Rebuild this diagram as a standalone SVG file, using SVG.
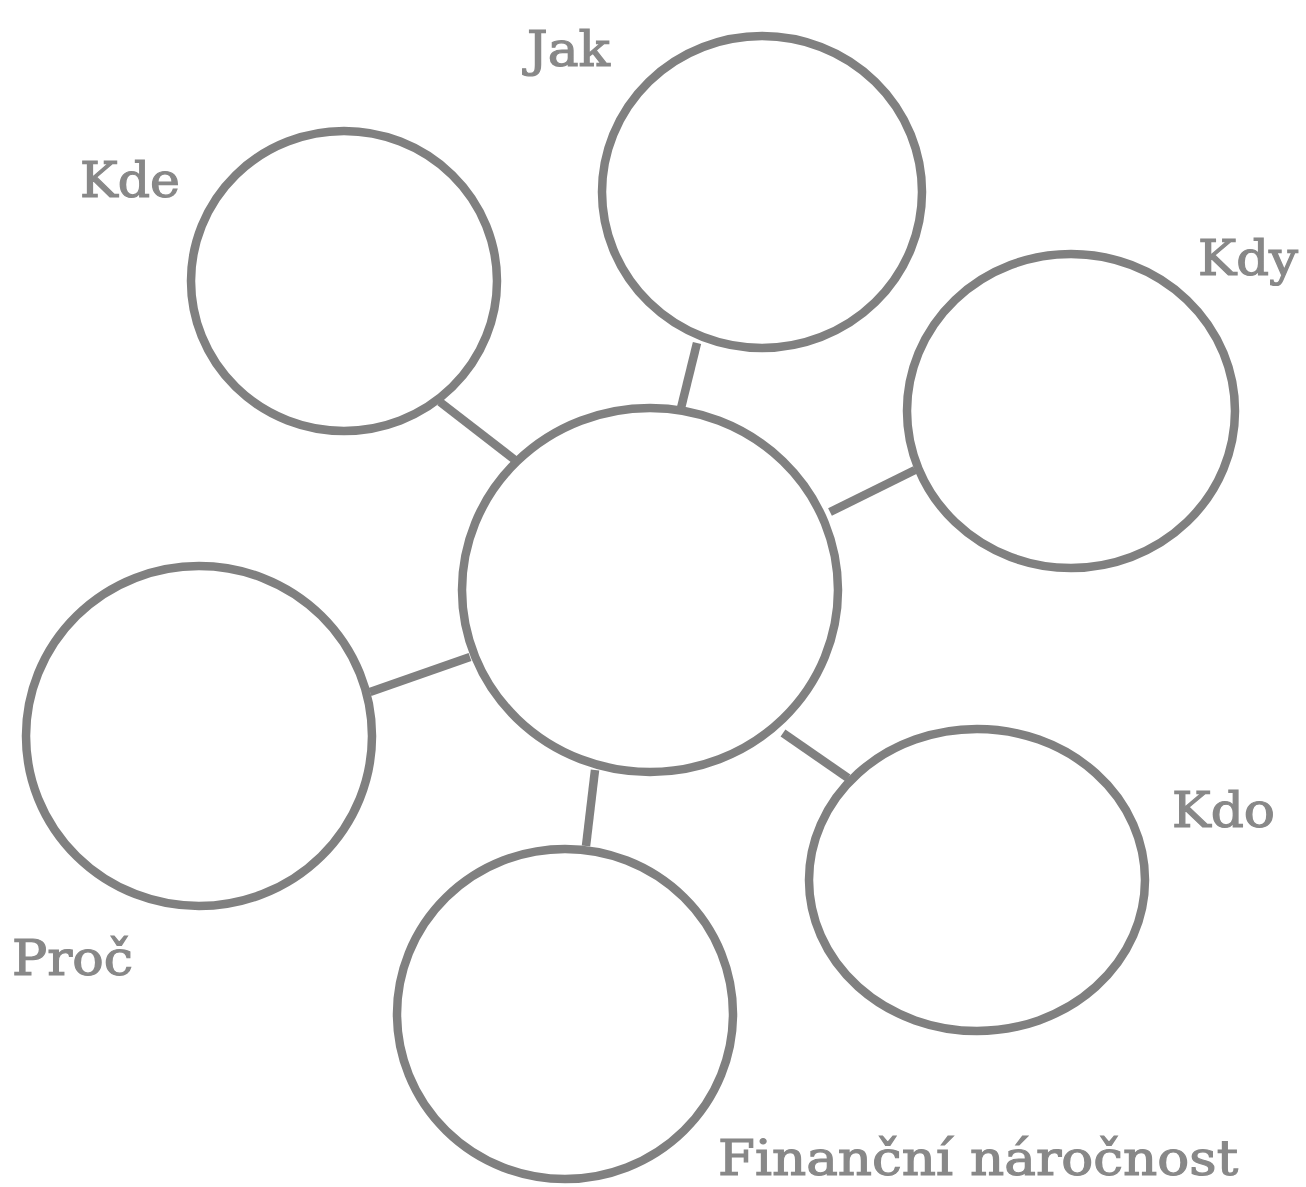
<svg xmlns="http://www.w3.org/2000/svg" width="1306" height="1187" viewBox="0 0 1306 1187">
<style>
.n{fill:none;stroke:#808080;stroke-width:8.5}
.c line{stroke:#808080;stroke-width:8.5}
.t{font-family:"DejaVu Serif","Liberation Serif",serif;font-size:48px;fill:#888888;stroke:#888888;stroke-width:1.2}
</style>
<rect width="1306" height="1187" fill="#ffffff"/>
<g id="connectors" class="c">
<line x1="440" y1="402" x2="515" y2="460"/>
<line x1="697" y1="343" x2="681" y2="408"/>
<line x1="915" y1="470" x2="830" y2="512"/>
<line x1="370" y1="692" x2="470" y2="657"/>
<line x1="586" y1="846" x2="595" y2="770"/>
<line x1="783" y1="733" x2="848" y2="778"/>
</g>
<g id="center"><ellipse class="n" cx="650" cy="590" rx="188" ry="182"/></g>
<g id="kde"><ellipse class="n" cx="344" cy="281" rx="153" ry="150"/><text class="t" x="80" y="197" textLength="100" lengthAdjust="spacingAndGlyphs">Kde</text></g>
<g id="jak"><ellipse class="n" cx="762" cy="192" rx="160" ry="156"/><text class="t" x="527" y="66" textLength="83" lengthAdjust="spacingAndGlyphs">Jak</text></g>
<g id="kdy"><ellipse class="n" cx="1071" cy="411" rx="164" ry="157"/><text class="t" x="1198" y="275" textLength="100" lengthAdjust="spacingAndGlyphs">Kdy</text></g>
<g id="proc"><ellipse class="n" cx="199" cy="736" rx="173" ry="170"/><text class="t" x="12" y="975" textLength="121" lengthAdjust="spacingAndGlyphs">Proč</text></g>
<g id="financni"><ellipse class="n" cx="565" cy="1014" rx="168" ry="165"/><text class="t" x="718" y="1175" textLength="520" lengthAdjust="spacingAndGlyphs">Finanční náročnost</text></g>
<g id="kdo"><ellipse class="n" cx="977" cy="880" rx="168" ry="151"/><text class="t" x="1172" y="827" textLength="103" lengthAdjust="spacingAndGlyphs">Kdo</text></g>
</svg>
